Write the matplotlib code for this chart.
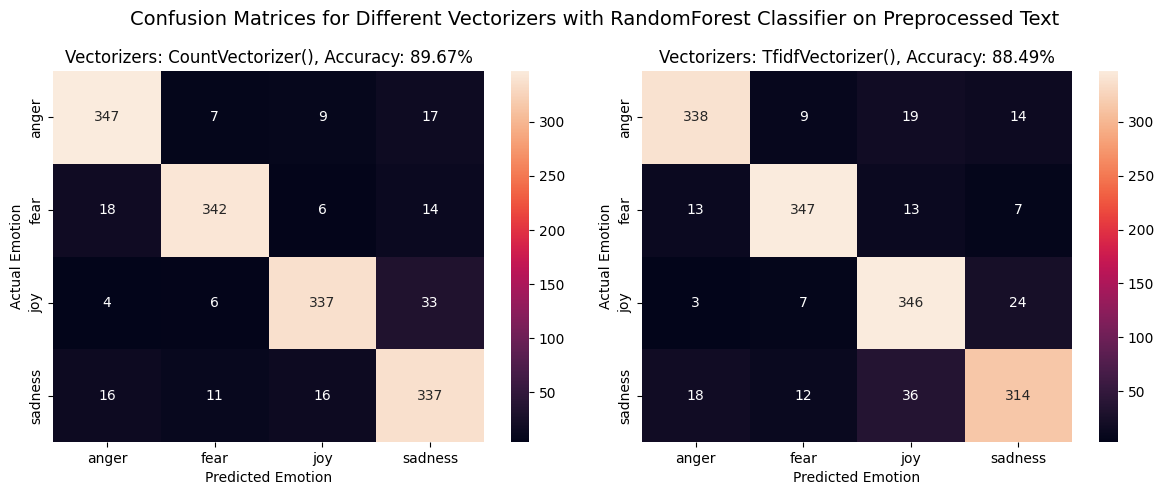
import numpy as np
import matplotlib
matplotlib.use("Agg")
import matplotlib.pyplot as plt
import seaborn as sns

labels = ["anger", "fear", "joy", "sadness"]
count_cm = [[347, 7, 9, 17], [18, 342, 6, 14], [4, 6, 337, 33], [16, 11, 16, 337]]
tfidf_cm = [[338, 9, 19, 14], [13, 347, 13, 7], [3, 7, 346, 24], [18, 12, 36, 314]]
titles = ["Vectorizers: CountVectorizer(), Accuracy: 89.67%",
          "Vectorizers: TfidfVectorizer(), Accuracy: 88.49%"]

W, H = 1163, 495


# pixel box to figure fractions
def box(x0, x1, top, bottom):
    return [x0 / W, 1 - bottom / H, (x1 - x0) / W, (bottom - top) / H]


fig = plt.figure(figsize=(W / 100, H / 100), dpi=100)
fig.suptitle("Confusion Matrices for Different Vectorizers with RandomForest Classifier on Preprocessed Text",
             fontsize=14, x=594.5 / W, y=1 - 10 / H)

# heatmap and colorbar columns in pixels
panels = [(53, 484, 511, 529), (642, 1072, 1099, 1118)]

for (x0, x1, c0, c1), cm, title in zip(panels, [count_cm, tfidf_cm], titles):
    ax = fig.add_axes(box(x0, x1, 71, 442))
    cax = fig.add_axes(box(c0, c1, 71, 442))
    sns.heatmap(np.array(cm), annot=True, fmt="d", ax=ax, cbar_ax=cax, xticklabels=labels, yticklabels=labels)
    ax.set_title(title)
    ax.set_xlabel("Predicted Emotion")
    ax.set_ylabel("Actual Emotion")

plt.savefig("out.png")
plt.close()
